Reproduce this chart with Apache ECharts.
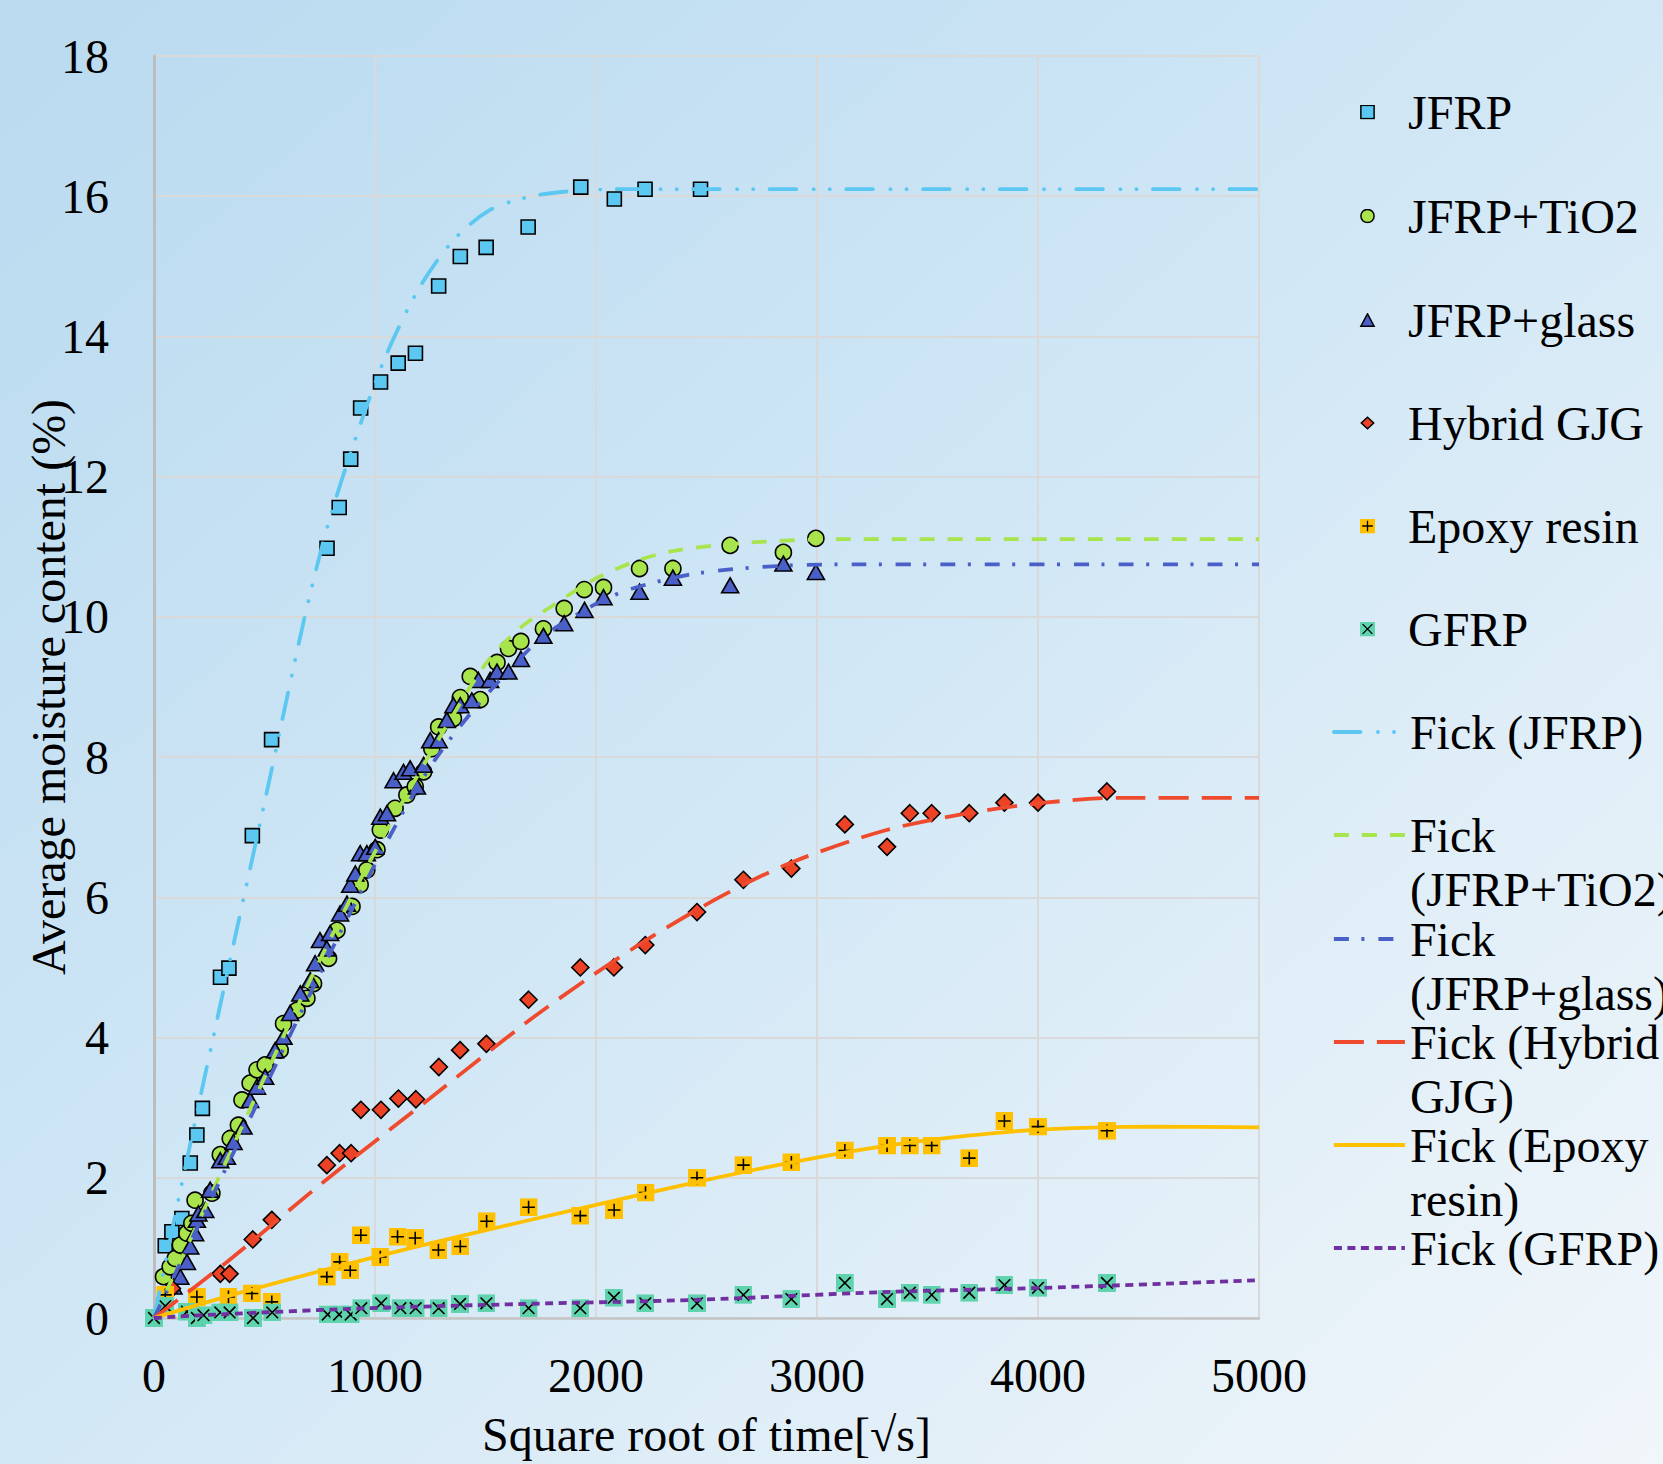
<!DOCTYPE html>
<html>
<head>
<meta charset="utf-8">
<title>Average moisture content</title>
<script src="https://cdn.jsdelivr.net/npm/echarts@6/dist/echarts.min.js"></script>
<style>
  html, body { margin: 0; padding: 0; }
  #echart { width: 1663px; height: 1464px; }
</style>
</head>
<body>
<div id="echart"></div>
<script>
// axis ranges
var xMin = 0, xMax = 5000, xStep = 1000;
var yMin = 0, yMax = 18, yStep = 2;

// measured points [sqrt(t), moisture %]
var jfrp = [[51,1.03],[81,1.23],[126,1.42],[164,2.21],[194,2.61],[219,2.99],[301,4.86],[339,4.99],[445,6.88],[532,8.25],
  [783,10.98],[838,11.56],[890,12.25],[935,12.98],[1025,13.35],[1105,13.62],[1183,13.76],[1288,14.72],[1386,15.14],
  [1503,15.27],[1693,15.56],[1931,16.13],[2083,15.96],[2222,16.1],[2473,16.1]];

var jfrpTio2 = [[43,0.59],[73,0.73],[96,0.85],[119,1.04],[149,1.21],[171,1.35],[186,1.68],[262,1.78],[300,2.33],[345,2.56],
  [382,2.75],[398,3.11],[435,3.35],[466,3.54],[503,3.61],[571,3.82],[586,4.2],[647,4.39],[692,4.56],[722,4.77],[790,5.13],
  [828,5.53],[896,5.87],[933,6.18],[963,6.39],[1009,6.68],[1024,6.96],[1091,7.27],[1144,7.46],[1182,7.58],[1220,7.79],
  [1257,8.12],[1288,8.43],[1355,8.55],[1386,8.85],[1431,9.15],[1476,8.82],[1552,9.35],[1604,9.55],[1660,9.65],[1762,9.83],
  [1856,10.12],[1947,10.39],[2034,10.42],[2197,10.69],[2348,10.69],[2607,11.02],[2848,10.92],[2995,11.12]];

var jfrpGlass = [[88,0.45],[119,0.59],[149,0.8],[164,1.02],[186,1.21],[194,1.4],[201,1.49],[232,1.54],[254,1.83],[300,2.25],
  [330,2.3],[360,2.51],[405,2.73],[435,3.11],[466,3.3],[503,3.44],[548,3.82],[586,4.01],[616,4.35],[662,4.63],[707,4.82],
  [729,5.06],[751,5.39],[782,5.27],[797,5.49],[842,5.77],[873,5.91],[888,6.18],[911,6.34],[933,6.63],[963,6.63],[1001,6.72],
  [1024,7.15],[1054,7.2],[1084,7.67],[1129,7.79],[1159,7.84],[1190,7.58],[1220,7.89],[1250,8.24],[1288,8.24],[1325,8.53],
  [1355,8.74],[1386,8.74],[1438,8.81],[1468,9.1],[1521,9.1],[1552,9.22],[1604,9.22],[1660,9.4],[1762,9.73],[1856,9.91],
  [1948,10.1],[2034,10.28],[2197,10.36],[2348,10.56],[2607,10.45],[2848,10.76],[2995,10.64]];

var hybridGjg = [[81,0.42],[300,0.63],[342,0.63],[447,1.12],[533,1.4],[782,2.18],[840,2.35],[892,2.35],[936,2.97],[1027,2.97],
  [1106,3.13],[1185,3.12],[1289,3.58],[1385,3.82],[1504,3.91],[1695,4.54],[1929,5.0],[2081,5.0],[2223,5.32],[2457,5.79],
  [2667,6.25],[2884,6.41],[3126,7.04],[3317,6.72],[3420,7.2],[3519,7.2],[3689,7.2],[3848,7.35],[4000,7.35],[4312,7.51]];

var epoxy = [[51,0.33],[194,0.3],[337,0.3],[443,0.35],[533,0.23],[782,0.59],[840,0.8],[888,0.68],[936,1.18],[1024,0.87],
  [1102,1.16],[1182,1.14],[1287,0.97],[1386,1.02],[1505,1.38],[1695,1.58],[1929,1.46],[2082,1.54],[2224,1.79],[2457,2.0],
  [2667,2.18],[2884,2.22],[3126,2.39],[3317,2.46],[3420,2.46],[3519,2.46],[3689,2.28],[3848,2.81],[4000,2.73],[4312,2.67]];

var gfrp = [[0,0],[51,0.17],[149,0.09],[194,0.0],[224,0.04],[300,0.08],[342,0.08],[448,0.0],[535,0.08],[786,0.05],[838,0.05],
  [890,0.05],[938,0.14],[1028,0.21],[1115,0.14],[1184,0.14],[1288,0.14],[1385,0.2],[1504,0.21],[1695,0.14],[1929,0.14],
  [2081,0.29],[2223,0.21],[2457,0.21],[2667,0.33],[2884,0.27],[3126,0.5],[3317,0.27],[3420,0.36],[3519,0.33],[3689,0.36],
  [3848,0.47],[4000,0.43],[4312,0.5]];

// fitted Fick curves
var fickJfrp = [[0,0],[126,1.92],[292,4.35],[509,7.48],[682,10.0],[786,11.3],[907,12.5],[1046,13.7],[1202,14.7],
  [1357,15.38],[1513,15.79],[1669,15.97],[1842,16.06],[2100,16.1],[5000,16.1]];
var fickTio2 = [[0,0],[284,1.94],[650,4.45],[933,6.25],[1114,7.3],[1325,8.45],[1506,9.35],[1660,9.85],[1808,10.17],
  [1989,10.53],[2185,10.8],[2366,10.95],[2698,11.06],[3100,11.11],[5000,11.11]];
var fickGlass = [[0,0],[314,2.06],[933,6.06],[1280,8.0],[1717,9.6],[1950,10.1],[2140,10.38],[2457,10.62],[2848,10.73],
  [3200,10.75],[5000,10.75]];
var fickHybrid = [[0,0],[330,0.8],[767,1.94],[1235,3.1],[1700,4.25],[1981,4.88],[2258,5.45],[2570,6.02],[2887,6.5],
  [3303,6.95],[3684,7.2],[4030,7.35],[4376,7.42],[5000,7.42]];
var fickEpoxy = [[0,0],[435,0.4],[1038,0.9],[1431,1.2],[1981,1.6],[2471,1.95],[2887,2.22],[3303,2.45],[3684,2.6],
  [4030,2.69],[4515,2.73],[5000,2.72]];
var fickGfrp = [[0,0],[284,0.05],[976,0.14],[1669,0.2],[2457,0.26],[3303,0.37],[4030,0.43],[5000,0.54]];

var seriesNames = ['JFRP', 'JFRP+TiO2', 'JFRP+glass', 'Hybrid GJG', 'Epoxy resin', 'GFRP',
  'Fick (JFRP)', 'Fick (JFRP+TiO2)', 'Fick (JFRP+glass)', 'Fick (Hybrid GJG)', 'Fick (Epoxy resin)', 'Fick (GFRP)'];
// how the legend wraps the long names
var legendLabels = ['JFRP', 'JFRP+TiO2', 'JFRP+glass', 'Hybrid GJG', 'Epoxy resin', 'GFRP',
  'Fick (JFRP)', '\nFick\n(JFRP+TiO2)', '\nFick\n(JFRP+glass)', '\nFick (Hybrid\nGJG)', '\nFick (Epoxy\nresin)', 'Fick (GFRP)'];
var legendRowY = [112, 216, 320, 423, 526, 629, 732, 835, 939, 1042, 1145, 1248];

var font = 'Liberation Serif';

function svgImage(body) {
  var svg = '<svg xmlns="http://www.w3.org/2000/svg" width="34" height="34" viewBox="0 0 34 34">' + body + '</svg>';
  return 'image://data:image/svg+xml;charset=utf-8,' + encodeURIComponent(svg);
}
function boxSymbol(fill, mark) {
  return svgImage('<rect width="34" height="34" fill="' + fill + '"/>' +
    '<path d="' + mark + '" stroke="#000" stroke-width="3" fill="none"/>');
}
function outlined(shape, fill) {
  return svgImage(shape.replace('/>', ' fill="' + fill + '" stroke="#000" stroke-width="3.4"/>'));
}

var epoxySymbol = boxSymbol('#ffc000', 'M17 5V29M5 17H29');
var gfrpSymbol = boxSymbol('#5fd2ae', 'M6 6L28 28M28 6L6 28');

var legendIcons = [
  outlined('<rect x="2" y="2" width="30" height="30"/>', '#5cc8f2'),
  outlined('<circle cx="17" cy="17" r="15"/>', '#a8e44c'),
  outlined('<path d="M17 3L32 31H2Z"/>', '#4a60c8'),
  outlined('<path d="M17 4L31 17L17 30L3 17Z"/>', '#ec4326'),
  epoxySymbol,
  gfrpSymbol
];

function scatter(name, data, symbol, size, color, border) {
  return {
    name: name, type: 'scatter', data: data, symbol: symbol, symbolSize: size, z: 2,
    itemStyle: { color: color, borderColor: '#000', borderWidth: border, opacity: 1 }
  };
}

function fick(name, data, color, dash, cap) {
  return {
    name: name, type: 'line', data: data, symbol: 'none', showSymbol: false,
    smooth: 0.3, z: 3,
    itemStyle: { color: color },
    lineStyle: { color: color, width: 3.8, type: dash, cap: cap || 'butt' }
  };
}

var myChart = echarts.init(document.getElementById('echart'), null, { renderer: 'svg' });

var legends = seriesNames.map(function (name, i) {
  var lines = legendLabels[i].split('\n').length;
  var item = { name: name };
  var lg = {
    data: [item],
    left: 1332,
    top: legendRowY[i] - lines * 27,
    padding: 0,
    orient: 'vertical',
    itemWidth: 71,
    itemHeight: 15,
    selectedMode: false,
    formatter: legendLabels[i],
    textStyle: { fontFamily: font, fontSize: 48, color: '#000', lineHeight: 54 }
  };
  if (legendIcons[i]) {
    item.icon = legendIcons[i];
  } else {
    // line entries: keep the dashed line, hide the marker dot
    lg.itemStyle = { color: 'rgba(0,0,0,0)', borderWidth: 0, opacity: 0 };
    lg.lineStyle = { width: 3.8 };
  }
  return lg;
});

var option = {
  backgroundColor: new echarts.graphic.LinearGradient(0, 0, 1, 1, [
    { offset: 0, color: '#b9daf0' },
    { offset: 0.45, color: '#cfe6f5' },
    { offset: 1, color: '#f1f6fa' }
  ]),
  animation: false,
  legend: legends,
  grid: { left: 154, top: 56, width: 1105, height: 1262, containLabel: false, outerBoundsMode: 'none' },
  xAxis: {
    type: 'value', min: xMin, max: xMax, interval: xStep,
    name: 'Square root of time[√s]', nameLocation: 'middle', nameGap: 92,
    nameTextStyle: { fontFamily: font, fontSize: 48, color: '#000' },
    axisLine: { show: true, lineStyle: { color: '#c4c4c4', width: 2.5 } },
    axisTick: { show: false },
    axisLabel: { fontFamily: font, fontSize: 48, color: '#000', margin: 33,
      formatter: function (v) { return String(v); } },
    splitLine: { show: true, lineStyle: { color: '#d9d9d9', width: 2 } }
  },
  yAxis: {
    type: 'value', min: yMin, max: yMax, interval: yStep,
    name: 'Average moisture content (%)', nameLocation: 'middle', nameGap: 82,
    nameMoveOverlap: false,
    nameTextStyle: { fontFamily: font, fontSize: 48, color: '#000' },
    axisLine: { show: true, lineStyle: { color: '#bdbdbd', width: 3 } },
    axisTick: { show: false },
    axisLabel: { fontFamily: font, fontSize: 48, color: '#000', margin: 45,
      formatter: function (v) { return String(v); } },
    splitLine: { show: true, lineStyle: { color: '#d9d9d9', width: 2 } }
  },
  series: [
    scatter('JFRP', jfrp, 'rect', 14, '#5cc8f2', 1.6),
    scatter('JFRP+TiO2', jfrpTio2, 'circle', 16, '#a8e44c', 1.6),
    scatter('JFRP+glass', jfrpGlass, 'triangle', [17, 15], '#4a60c8', 1.6),
    scatter('Hybrid GJG', hybridGjg, 'diamond', 17, '#ec4326', 1.6),
    scatter('Epoxy resin', epoxy, epoxySymbol, 18, '#ffc000', 0),
    scatter('GFRP', gfrp, gfrpSymbol, 18, '#5fd2ae', 0),
    fick('Fick (JFRP)', fickJfrp, '#5cc8f2', [26.6, 17.4, 0.1, 16, 0.1, 16.4], 'round'),
    fick('Fick (JFRP+TiO2)', fickTio2, '#a8e44c', [15, 13]),
    fick('Fick (JFRP+glass)', fickGlass, '#4a60c8', [15, 12.5, 3, 14]),
    fick('Fick (Hybrid GJG)', fickHybrid, '#f04a2e', [30, 13]),
    fick('Fick (Epoxy resin)', fickEpoxy, '#ffc000', 'solid'),
    fick('Fick (GFRP)', fickGfrp, '#7030a0', [8, 5.5])
  ]
};
myChart.setOption(option);

window.onresize = function () {
  myChart.resize();
};
</script>
</body>
</html>
